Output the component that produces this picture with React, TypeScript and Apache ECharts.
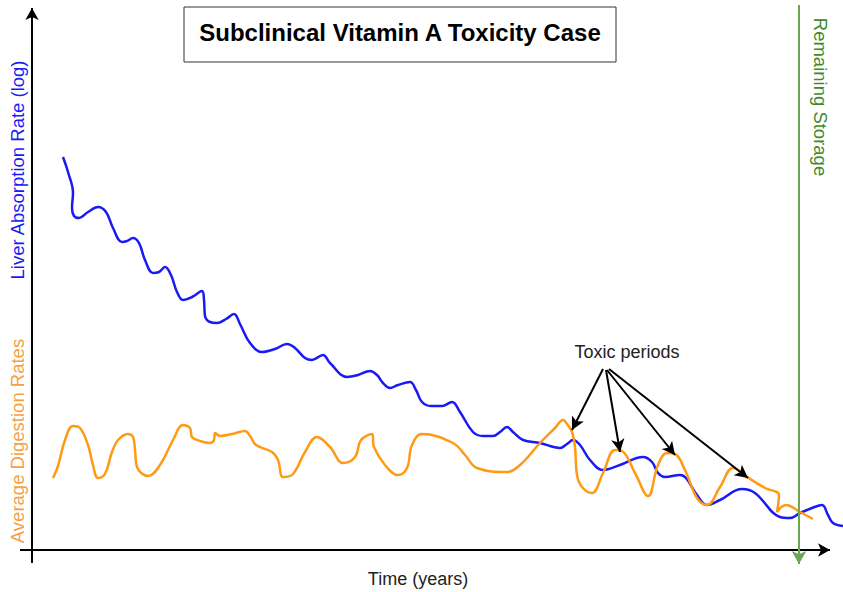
import React, { useEffect, useRef } from "react";
import * as echarts from "echarts";

// Liver absorption rate (log) over time, [time, value]
const liverAbsorption: number[][] = [
  [3.1, 39.3], [3.6, 37.8], [4.1, 35.7], [4.0, 34.2], [4.2, 33.4], [4.7, 33.2], [5.6, 33.8], [6.6, 34.3],
  [7.4, 33.8], [8.1, 32.2], [9.0, 30.8], [9.5, 30.9], [10.1, 31.2], [10.7, 30.7], [11.3, 29.0], [12.1, 27.7],
  [12.7, 27.8], [13.3, 28.3], [13.9, 27.5], [14.5, 25.8], [15.1, 25.0], [16.0, 25.3], [17.0, 25.9], [17.2, 25.0],
  [17.3, 23.4], [17.8, 22.8], [18.5, 22.7], [19.4, 23.1], [20.2, 23.6], [20.8, 22.6], [21.8, 20.7], [23.0, 19.8],
  [24.3, 20.1], [25.5, 20.6], [26.3, 20.2], [27.3, 19.2], [28.0, 19.0], [29.1, 19.5], [29.8, 18.7], [31.5, 17.3],
  [32.6, 17.5], [33.8, 17.9], [34.5, 17.5], [35.1, 16.7], [35.8, 16.2], [36.6, 16.5], [37.8, 16.8], [38.4, 16.0],
  [39.0, 14.8], [39.9, 14.4], [41.0, 14.4], [42.0, 14.8], [42.8, 13.8], [44.1, 11.8], [45.1, 11.4], [46.1, 11.4],
  [46.8, 11.8], [47.5, 12.3], [48.1, 11.8], [49.1, 11.0], [50.8, 10.7], [52.8, 10.2], [53.5, 10.6], [54.1, 11.0],
  [54.8, 10.5], [55.8, 9.0], [57.1, 8.0], [58.8, 8.5], [61.1, 9.3], [62.0, 8.8], [62.6, 7.7], [63.3, 7.3],
  [64.8, 7.5], [65.4, 7.2], [66.5, 5.5], [67.5, 4.5], [68.8, 5.0], [71.0, 6.1], [72.3, 5.7], [74.8, 3.3],
  [75.8, 3.2], [76.8, 3.7], [78.0, 4.2], [79.0, 4.5], [79.6, 3.5], [80.1, 2.7], [81.1, 2.4],
];

// Average digestion rates over time, [time, value]
const digestionRates: number[][] = [
  [2.1, 7.2], [2.6, 8.4], [3.3, 11.0], [4.1, 12.4], [4.8, 12.2], [5.6, 10.5], [6.1, 8.5], [6.6, 7.2],
  [7.3, 7.6], [8.0, 9.8], [8.6, 11.0], [9.6, 11.6], [10.1, 11.3], [10.3, 10.0], [10.5, 8.3], [11.6, 7.4],
  [12.8, 8.5], [14.1, 11.0], [15.1, 12.5], [15.8, 12.2], [16.0, 11.3], [16.8, 10.9], [17.8, 10.7], [18.2, 11.0],
  [18.3, 11.7], [18.8, 11.4], [20.0, 11.6], [21.3, 11.9], [21.8, 11.4], [22.4, 10.5], [24.0, 9.8], [24.6, 9.0],
  [25.1, 7.3], [26.1, 7.6], [27.3, 9.8], [28.5, 11.3], [29.8, 10.3], [31.1, 8.7], [32.3, 9.3], [32.9, 11.0],
  [34.0, 11.6], [34.2, 10.3], [35.3, 8.5], [36.6, 7.5], [37.5, 8.2], [38.0, 10.5], [39.0, 11.6], [42.1, 10.7],
  [43.3, 9.5], [44.5, 8.2], [47.5, 7.8], [48.8, 8.5], [50.8, 10.7], [52.3, 12.2], [53.1, 13.0], [53.5, 12.6],
  [54.0, 11.8], [54.3, 10.3], [54.5, 7.5], [55.0, 6.3], [56.0, 5.7], [57.1, 7.7], [58.3, 10.0], [59.0, 9.9],
  [60.3, 7.7], [61.6, 5.4], [62.6, 8.5], [63.5, 9.7], [64.3, 9.6], [65.3, 8.0], [66.5, 5.2], [67.5, 4.5],
  [68.8, 6.3], [70.1, 8.2], [71.5, 7.3], [73.3, 6.2], [74.7, 5.5], [74.5, 3.8], [75.4, 4.5], [76.8, 3.8],
  [78.1, 3.1],
];

// Axis arrows: [from, to]
const axisArrows: number[][][] = [
  [[-1.2, 0], [79.8, 0]],
  [[0, -1.3], [0, 54.2]],
];

// "Toxic periods" annotation arrows: [from, to]
const toxicArrows: number[][][] = [
  [[57.1, 18.1], [54.0, 12.0]],
  [[57.4, 18.0], [58.8, 9.8]],
  [[57.5, 18.0], [64.3, 9.5]],
  [[57.7, 18.1], [71.6, 7.2]],
];

// Remaining storage marker: [time, top, bottom]
const remainingStorage = [76.7, 54.5, -1.4];

// Visible extent of the drawing
const xExtent = [-3.2, 81.1];
const yExtent = [-4.2, 55.0];

const titleText = "Subclinical Vitamin A Toxicity Case";
const xAxisName = "Time (years)";
const yAxisNameTop = "Liver Absorption Rate (log)";
const yAxisNameBottom = "Average Digestion Rates";
const storageLabel = "Remaining Storage";
const toxicLabel = "Toxic periods";

const FONT = "'Liberation Sans', Arial, Helvetica, sans-serif";
const BLUE = "#1a1af5";
const ORANGE = "#ff9a14";
const GREEN = "#6aa84f";

function arrowSeries(name: string, pairs: number[][][], color: string, size: number[], z: number) {
  return {
    name,
    type: "line",
    data: [pairs[0][0]],
    showSymbol: false,
    silent: true,
    clip: false,
    lineStyle: { opacity: 0 },
    z,
    markLine: {
      silent: true,
      symbol: ["none", "arrow"],
      symbolSize: size,
      label: { show: false },
      lineStyle: { color, width: 2, type: "solid" },
      data: pairs.map(([a, b]) => [{ coord: a }, { coord: b }]),
    },
  };
}

export default function App() {
  const ref = useRef<HTMLDivElement>(null);
  useEffect(() => {
    document.body.style.margin = "0";
    const chart = echarts.init(ref.current!, null, { renderer: "svg" });
    const hiddenAxis = {
      type: "value",
      axisLine: { show: false },
      axisTick: { show: false },
      axisLabel: { show: false },
      splitLine: { show: false },
    };
    chart.setOption({
      animation: false,
      backgroundColor: "#fff",
      grid: { left: 0, right: 0, top: 0, bottom: 0, containLabel: false },
      xAxis: { ...hiddenAxis, min: xExtent[0], max: xExtent[1] },
      yAxis: { ...hiddenAxis, min: yExtent[0], max: yExtent[1] },
      series: [
        arrowSeries("Axes", axisArrows, "#000", [10, 12], 2),
        {
          name: "Liver Absorption Rate",
          type: "line",
          data: liverAbsorption,
          smooth: 0.4,
          showSymbol: false,
          silent: true,
          lineStyle: { color: BLUE, width: 2.5 },
          z: 3,
        },
        {
          name: "Average Digestion Rates",
          type: "line",
          data: digestionRates,
          smooth: 0.4,
          showSymbol: false,
          silent: true,
          lineStyle: { color: ORANGE, width: 2.5 },
          z: 4,
        },
        arrowSeries("Toxic periods", toxicArrows, "#000", [10, 13], 5),
        arrowSeries(
          "Remaining Storage",
          [[[remainingStorage[0], remainingStorage[1]], [remainingStorage[0], remainingStorage[2]]]],
          GREEN,
          [11, 13],
          6
        ),
      ],
      graphic: [
        {
          type: "rect",
          shape: { x: 184, y: 7, width: 432, height: 55 },
          style: { fill: "#fff", stroke: "#333", lineWidth: 1 },
          z: 10,
        },
        {
          type: "text",
          x: 400,
          y: 32,
          z: 11,
          style: {
            text: titleText,
            font: `bold 24px ${FONT}`,
            fill: "#000",
            align: "center",
            verticalAlign: "middle",
          },
        },
        {
          type: "text",
          x: 418,
          y: 579,
          style: {
            text: xAxisName,
            font: `18px ${FONT}`,
            fill: "#222",
            align: "center",
            verticalAlign: "middle",
          },
        },
        {
          type: "text",
          x: 17,
          y: 170,
          rotation: Math.PI / 2,
          style: {
            text: yAxisNameTop,
            font: `18.5px ${FONT}`,
            fill: BLUE,
            align: "center",
            verticalAlign: "middle",
          },
        },
        {
          type: "text",
          x: 17,
          y: 441,
          rotation: Math.PI / 2,
          style: {
            text: yAxisNameBottom,
            font: `18.5px ${FONT}`,
            fill: "#f5a043",
            align: "center",
            verticalAlign: "middle",
          },
        },
        {
          type: "text",
          x: 820,
          y: 97,
          rotation: -Math.PI / 2,
          style: {
            text: storageLabel,
            font: `18.5px ${FONT}`,
            fill: "#3f8a2a",
            align: "center",
            verticalAlign: "middle",
          },
        },
        {
          type: "text",
          x: 627,
          y: 352,
          style: {
            text: toxicLabel,
            font: `18px ${FONT}`,
            fill: "#222",
            align: "center",
            verticalAlign: "middle",
          },
        },
      ],
    });
    return () => chart.dispose();
  }, []);
  return <div ref={ref} style={{ width: 843, height: 592 }} />;
}
